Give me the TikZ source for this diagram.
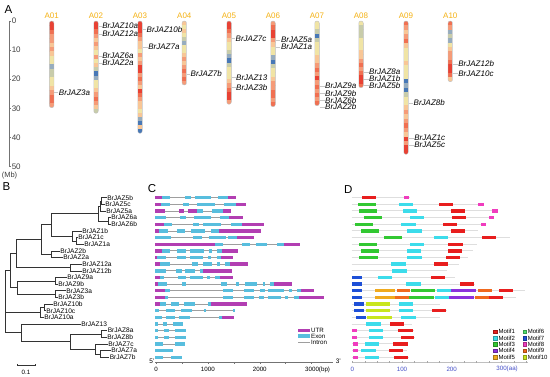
\documentclass[tikz,border=0pt]{standalone}
\usepackage{fontspec}
\setmainfont{Liberation Sans}
\definecolor{cR}{RGB}{232,66,52}
\definecolor{cO}{RGB}{240,112,82}
\definecolor{cS}{RGB}{245,155,120}
\definecolor{cP}{RGB}{248,198,150}
\definecolor{cY}{RGB}{240,228,165}
\definecolor{cG}{RGB}{200,204,170}
\definecolor{cL}{RGB}{150,172,190}
\definecolor{cB}{RGB}{72,120,182}
\definecolor{gold}{RGB}{245,178,20}
\definecolor{cu}{RGB}{178,62,178}
\definecolor{ce}{RGB}{88,190,222}
\definecolor{m1}{RGB}{232,30,30}
\definecolor{m2}{RGB}{60,220,235}
\definecolor{m3}{RGB}{50,200,50}
\definecolor{m4}{RGB}{140,50,220}
\definecolor{m5}{RGB}{240,170,30}
\definecolor{m6}{RGB}{80,225,110}
\definecolor{m7}{RGB}{30,80,215}
\definecolor{m8}{RGB}{240,60,190}
\definecolor{m9}{RGB}{240,105,30}
\definecolor{m10}{RGB}{200,230,30}
\definecolor{axblue}{RGB}{70,80,200}
\newcommand\chrom[4]{%
  \begin{scope}
    \clip[rounded corners=2.2pt] ({#1-2.3},21) rectangle ({#1+2.3},#2);
    \foreach \c [count=\i] in {#4} {
      \fill[\c] ({#1-2.5},{21+(\i-1)*(#2-21)/#3}) rectangle ({#1+2.5},{21+\i*(#2-21)/#3+0.25});
    }
  \end{scope}
  \draw[chromline] ({#1-2.3},21) rectangle ({#1+2.3},#2);
}
\newcommand\generow[3]{%
  \draw[intron] (155,#1) -- (#2,#1);
  \foreach \t/\a/\b in {#3} {\fill[\t] (\a,{#1-1.7}) rectangle (\b,{#1+1.7});}
}
\newcommand\protrow[3]{%
  \draw[protline] (351.7,#1) -- (#2,#1);
  \foreach \t/\a/\b in {#3} {\fill[\t] (\a,{#1-1.7}) rectangle (\b,{#1+1.7});}
}
\begin{document}
\begin{tikzpicture}[x=1pt,y=-1pt,
  panel/.style={font=\fontsize{11.5}{12}\selectfont, inner sep=0pt},
  chromline/.style={draw=black!25, line width=0.4pt, rounded corners=2.2pt},
  chrlab/.style={font=\fontsize{8}{9}\selectfont, text=gold, inner sep=0pt},
  genelab/.style={font=\fontsize{8}{9}\selectfont\itshape, anchor=west, inner sep=0.5pt},
  leader/.style={draw=black!22, line width=0.25pt},
  axisline/.style={draw=black!55, line width=0.5pt},
  axlab/.style={font=\fontsize{8}{9}\selectfont, text=black!75, anchor=west, inner sep=0pt},
  branch/.style={draw=black!80, line width=0.6pt},
  treelab/.style={font=\fontsize{6.6}{7}\selectfont, anchor=west, inner sep=0.6pt},
  intron/.style={draw=black!38, line width=0.8pt},
  protline/.style={draw=black!13, line width=1pt},
  smalllab/.style={font=\fontsize{6.2}{7}\selectfont, inner sep=0pt},
  leglab/.style={font=\fontsize{6.2}{7}\selectfont, anchor=west, inner sep=0pt},
  motleg/.style={line width=0.2pt}]
\useasboundingbox (0,0) rectangle (550,377);
\fill[white] (0,0) rectangle (550,377);

% ---------- Panel A ----------
\node[panel] (pA) at (8.5,9.5) {A};
\draw[axisline] (9.3,21) -- (9.3,166.5);
\foreach \v in {0,10,20,30,40,50} {
  \draw[axisline] (9.3,{21+2.91*\v}) -- (11,{21+2.91*\v});
  \node[axlab] (ax\v) at (11.6,{21+2.91*\v}) {\v};
}
\node[font=\fontsize{7.5}{9}\selectfont, text=black!75, inner sep=0pt] (mb) at (9.5,175.5) {(Mb)};

\chrom{51.7}{107.7}{20}{cR,cR,cO,cS,cS,cP,cS,cP,cY,cY,cL,cG,cG,cY,cY,cP,cS,cO,cO,cS}
\chrom{96}{113.3}{22}{cR,cR,cO,cS,cP,cS,cP,cY,cS,cY,cP,cG,cB,cL,cY,cY,cP,cS,cO,cS,cP,cG}
\chrom{140}{133.3}{28}{cR,cR,cR,cO,cS,cP,cP,cY,cS,cP,cS,cR,cR,cS,cO,cS,cP,cR,cO,cS,cP,cP,cY,cP,cL,cB,cP,cB}
\chrom{184.3}{85}{16}{cP,cY,cP,cY,cG,cL,cY,cY,cP,cS,cP,cS,cO,cS,cO,cS}
\chrom{229}{104.3}{20}{cR,cR,cO,cS,cP,cY,cY,cG,cL,cB,cG,cY,cY,cY,cP,cS,cO,cR,cR,cS}
\chrom{273}{106.7}{20}{cS,cO,cR,cR,cS,cP,cY,cY,cL,cB,cG,cY,cY,cP,cS,cS,cO,cO,cS,cO}
\chrom{317}{105.7}{20}{cY,cY,cG,cB,cG,cY,cY,cY,cP,cP,cS,cO,cS,cR,cS,cO,cS,cO,cS,cO}
\chrom{361}{87.7}{16}{cY,cG,cG,cG,cY,cY,cY,cP,cP,cS,cO,cS,cO,cR,cR,cO}
\chrom{406}{154.3}{30}{cO,cS,cP,cS,cO,cP,cY,cY,cY,cP,cY,cY,cY,cB,cL,cB,cG,cY,cY,cP,cS,cP,cS,cO,cS,cP,cR,cS,cR,cR}
\chrom{450.3}{81.7}{14}{cO,cS,cL,cG,cL,cY,cP,cS,cS,cO,cR,cR,cO,cP}

\foreach \nm/\x in {A01/51.7,A02/96,A03/140,A04/184.3,A05/229,A06/273,A07/317,A08/361,A09/406,A10/450.3}
  \node[chrlab] (l\nm) at (\x,15.6) {\nm};

\foreach \nm/\cx/\x/\y/\t in {
  g3a/51.7/58.3/92.3/BrJAZ3a,
  g10a/96/101.7/25.7/BrJAZ10a, g12a/96/101.7/34/BrJAZ12a, g6a/96/101.7/56/BrJAZ6a, g2a/96/101.7/62.7/BrJAZ2a,
  g10b/140/146/29.3/BrJAZ10b, g7a/140/147.7/46.7/BrJAZ7a,
  g7b/184.3/190/74/BrJAZ7b,
  g7c/229/235/38.3/BrJAZ7c, g13/229/235.5/77.3/BrJAZ13, g3b/229/235.5/87.3/BrJAZ3b,
  g5a/273/280.3/40/BrJAZ5a, g1a/273/280.3/47/BrJAZ1a,
  g9a/317/324.5/85.8/BrJAZ9a, g9b/317/324.5/93.6/BrJAZ9b, g6b/317/324.5/100.2/BrJAZ6b, g2b/317/324.5/106.8/BrJAZ2b,
  g8a/361/368.5/71.8/BrJAZ8a, g1b/361/368.5/78.8/BrJAZ1b, g5b/361/368.5/85.6/BrJAZ5b,
  g8b/406/413/102.7/BrJAZ8b, g1c/406/413.7/137.7/BrJAZ1c, g5c/406/413.7/144.7/BrJAZ5c,
  g12b/450.3/457.7/64/BrJAZ12b, g10c/450.3/457.7/73.3/BrJAZ10c} {
  \node[genelab] (\nm) at (\x,\y) {\t};
  \draw[leader] ({\cx+2.5},\y) -- (\nm.west);
}

% ---------- Panel B ----------
\node[panel] (pB) at (6.5,187) {B};
\foreach \nm/\x/\y/\t in {
  L1/106.5/197.7/BrJAZ5b, L2/104.5/204.35/BrJAZ5c, L3/105.5/211.0/BrJAZ5a,
  L4/110.5/217.65/BrJAZ6a, L5/110.5/224.3/BrJAZ6b, L6/81.5/230.95/BrJAZ1b,
  L7/77.5/237.6/BrJAZ1c, L8/83.5/244.25/BrJAZ1a, L9/59.5/250.9/BrJAZ2b,
  L10/62.5/257.55/BrJAZ2a, L11/81.5/264.2/BrJAZ12a, L12/81.5/270.85/BrJAZ12b,
  L13/66.5/277.5/BrJAZ9a, L14/57.5/284.15/BrJAZ9b, L15/65.5/290.8/BrJAZ3a,
  L16/57.5/297.45/BrJAZ3b, L17/52.5/304.1/BrJAZ10b, L18/45.5/310.75/BrJAZ10c,
  L19/43.5/317.4/BrJAZ10a, L20/80.5/324.05/BrJAZ13, L21/107/330.7/BrJAZ8a,
  L22/106.5/337.35/BrJAZ8b, L23/107.5/344.0/BrJAZ7c, L24/110.5/350.65/BrJAZ7a,
  L25/109/357.3/BrJAZ7b} {
  \coordinate (\nm) at (\x,\y);
  \node[treelab] (t\nm) at (\nm) {\t};
}
\foreach \nm/\x/\y in {
  n55/101.5/201.03, n5/100/206.01, n6/108/220.98, n56/98.5/213.49,
  n1ca/76/240.93, n1/72/235.94, n561/51.7/224.71, n2/51.7/254.23,
  n5612/41/239.47, n12/70/267.53, nU/16.7/253.5, n9/55/280.83,
  n3/55/294.13, n93/17.3/287.48, nQ/10/270.49, n10bc/44/307.43,
  n10/40/312.41, n8/101.5/334.03, n7ab/100/353.98, n7/95/348.99,
  n87/70.7/341.51, nY/21.3/332.78, root/5/301.6}
  \coordinate (\nm) at (\x,\y);
\foreach \p/\c in {
  n55/L1, n55/L2, n5/n55, n5/L3, n6/L4, n6/L5, n56/n5, n56/n6,
  n1ca/L7, n1ca/L8, n1/L6, n1/n1ca, n561/n56, n561/n1, n2/L9, n2/L10,
  n5612/n561, n5612/n2, n12/L11, n12/L12, nU/n5612, nU/n12,
  n9/L13, n9/L14, n3/L15, n3/L16, n93/n9, n93/n3, nQ/nU, nQ/n93,
  n10bc/L17, n10bc/L18, n10/n10bc, n10/L19, n8/L21, n8/L22,
  n7ab/L24, n7ab/L25, n7/L23, n7/n7ab, n87/n8, n87/n7, nY/L20, nY/n87,
  root/nQ, root/n10, root/nY}
  \draw[branch] (\p) |- (\c);
\coordinate (sbl) at (17,365.5);
\coordinate (sbr) at (35,365.5);
\draw[branch, line width=0.5pt] ([yshift=1.6pt]sbl) -- (sbl) -- (sbr) -- ([yshift=1.6pt]sbr);
\node[smalllab] (sblab) at (26,372) {0.1};

% ---------- Panel C ----------
\node[panel] (pC) at (152,188.3) {C};
\generow{197.7}{236}{cu/155/161.7,ce/161.7/170,ce/185/190.7,ce/195/210.7,ce/217.7/227.7,cu/227.7/236}
\generow{204.35}{245.7}{cu/155/160.7,ce/160.7/170,ce/183.3/189,ce/196.7/215,ce/224/236,cu/236/245.7}
\generow{211}{231}{cu/155/165,cu/179.3/184,cu/188.3/197.3,ce/197.3/203.3,ce/211.7/222.7,cu/222.7/231}
\generow{217.65}{243.3}{ce/155/166,ce/180/186,ce/194.3/210.7,ce/220/229,cu/229/243.3}
\generow{224.3}{264}{cu/155/164,ce/164/171.7,ce/192.7/199.3,ce/203.3/220.7,ce/231/241.7,cu/241.7/264}
\generow{230.95}{260.7}{cu/155/159.3,ce/159.3/168.3,ce/176.7/185,ce/190.7/205,ce/210.7/219,cu/219/260.7}
\generow{237.6}{254}{ce/155/170.7,ce/192.7/201.7,ce/209.3/225.7,ce/227.7/237.3,cu/237.3/254}
\generow{244.25}{300}{cu/155/215,ce/215/222.7,ce/241.7/250,ce/256/267.3,ce/276.7/284,cu/284/300}
\generow{250.9}{238.3}{cu/155/161.7,ce/161.7/170,ce/177.3/185.7,ce/190/204,ce/209.3/211.7,ce/217.3/221.7,cu/221.7/238.3}
\generow{257.55}{233.3}{cu/155/157.3,ce/157.3/166,ce/177.3/185.7,ce/190/203.3,ce/208.3/210.7,ce/216.7/220.7,cu/220.7/233.3}
\generow{264.2}{248.3}{cu/155/160,ce/160/170,ce/191.7/198.3,ce/202.7/211.7,ce/216.7/220,ce/225/230,cu/230/248.3}
\generow{270.85}{231.7}{ce/155/166,ce/176/181.7,ce/185/195,ce/200/203.3,cu/203.3/231.7}
\generow{277.5}{232.7}{cu/155/160,ce/160/164,ce/178.3/186,ce/190/202.7,ce/207.3/210,ce/215/220,cu/220/232.7}
\generow{284.15}{291.7}{cu/155/158.3,ce/158.3/166.7,ce/182.3/186,ce/220.7/227.3,ce/236/239.3,ce/245/257.3,ce/262.7/265,ce/270/274,cu/274/291.7}
\generow{290.8}{314}{cu/155/165,ce/165/170,ce/222.7/233.3,ce/244/254,ce/260/265,ce/268.3/284,ce/289.3/291.7,ce/296.7/300.7,cu/300.7/314}
\generow{297.45}{324}{cu/155/165,ce/165/168.3,ce/222.7/233.3,ce/244/254.3,ce/259.3/264.3,ce/268.3/281,ce/285/287.7,ce/294/299,cu/299/324}
\generow{304.1}{246.7}{cu/155/160,ce/160/166,ce/171/179.3,ce/184/195,ce/208.3/211,cu/211/246.7}
\generow{310.75}{235}{ce/155/159.3,ce/166/175,ce/180.7/191.7,ce/204/206,ce/233.3/235}
\generow{317.4}{234}{ce/155/161.7,ce/166/175,ce/179.3/190,ce/219/221.7,cu/221.7/234}
\generow{324.05}{183.3}{ce/155/158.3,ce/163.3/167.3,ce/172.7/183.3}
\generow{330.7}{185.7}{ce/155/158.3,ce/164/169.3,ce/175/185.7}
\generow{337.35}{185.7}{ce/155/158.3,ce/164/169.3,ce/175/185.7}
\generow{344}{185}{ce/155/163.3,ce/175/185}
\generow{350.65}{172.7}{ce/155/172.7}
\generow{357.3}{181.7}{ce/155/163.3,ce/170.7/181.7}
% legend C
\fill[cu] (298.3,329) rectangle (310,332.4);
\node[leglab] (legU) at (311,330.7) {UTR};
\fill[ce] (298.3,334.3) rectangle (310,337.7);
\node[leglab] (legE) at (311,336) {Exon};
\draw[intron] (298.3,342) -- (310,342);
\node[leglab] (legI) at (311,342) {Intron};
% axis C
\draw[axisline] (155,362.7) -- (332.7,362.7);
\foreach \v in {0,500,...,3000} \draw[axisline] ({156+0.0519*\v},362.7) -- ({156+0.0519*\v},363.9);
\foreach \v in {0,1000,2000} \node[smalllab] (cax\v) at ({156+0.0519*\v},369.8) {\v};
\node[smalllab, anchor=west] (cax3000) at (305,369.8) {3000(bp)};
\node[smalllab, font=\fontsize{6.5}{7}\selectfont] (five) at (152,360.8) {5'};
\node[smalllab, font=\fontsize{6.5}{7}\selectfont] (three) at (338.3,360.8) {3'};

% ---------- Panel D ----------
\node[panel] (pD) at (348.3,189.3) {D};
\protrow{197.7}{410}{m1/361.7/375.7,m8/404/409.3}
\protrow{204.35}{484}{m3/357.7/375.7,m2/399.3/413.3,m1/439.3/453.3,m8/478.3/484}
\protrow{211}{497.7}{m3/359/376.7,m2/403.3/417.3,m1/450.7/465,m8/492.3/497.7}
\protrow{217.65}{494.3}{m3/364.3/382.3,m2/410/424.3,m1/451.7/465.7,m8/489.3/494.3}
\protrow{224.3}{485.7}{m3/355/373.3,m2/401/415.7,m1/443.3/457.3,m8/480.7/485.7}
\protrow{230.95}{478.3}{m3/360.7/379,m2/407.3/421.7,m1/450.7/465}
\protrow{237.6}{510}{m3/384/401.7,m2/434/447.7,m1/481.7/496}
\protrow{244.25}{476.7}{m3/359.3/377.3,m2/410/424,m1/448.3/462.7}
\protrow{250.9}{473.3}{m3/361/379,m2/406.7/421,m1/448.3/462.3}
\protrow{257.55}{468.3}{m3/359.3/377.7,m2/407.3/421.7,m1/445.7/460}
\protrow{264.2}{459.3}{m2/391/405.7,m1/434.3/448.3}
\protrow{270.85}{446.7}{m2/392.3/406.7}
\protrow{277.5}{455}{m7/351.7/361.7,m2/377.7/391.7,m1/430.7/445}
\protrow{284.15}{475}{m7/351.7/361.7,m2/406/420.7,m1/460/474}
\protrow{290.8}{525}{m7/351.7/361.7,m5/375/395,m9/396.7/410,m3/410.7/435,m2/436.7/450.7,m4/450.7/475.7,m9/478.3/492.3,m1/499.3/513.3}
\protrow{297.45}{515.7}{m7/351.7/361.7,m5/375/395,m9/395/409,m3/409.3/434,m2/435/449,m4/449.3/474,m9/475/489,m1/489.3/503.3}
\protrow{304.1}{440}{m7/354/364,m10/366/390,m2/399/413.3}
\protrow{310.75}{447}{m7/354/364,m10/366/390,m2/399/413.3,m1/431.7/445.7}
\protrow{317.4}{440}{m7/355.7/365.7,m10/367.3/391.7,m2/401/415.7}
\protrow{324.05}{411.7}{m2/366/380.7,m1/390/404.3}
\protrow{330.7}{414}{m8/351.7/356.7,m2/369/383.3,m1/398.3/412.7}
\protrow{337.35}{415}{m8/351.7/356.7,m2/369/383.3,m1/400.7/414}
\protrow{344}{408.3}{m8/352.7/358.3,m2/365/379.3,m1/393.3/407.7}
\protrow{350.65}{406.7}{m8/352.7/358.3,m2/361/375.7,m1/389/403.3}
\protrow{357.3}{409.3}{m8/352.7/358.3,m2/365/379.3,m1/394.3/408.3}
% legend D
\foreach \c/\x/\y/\t in {
  m1/493.3/331.7/Motif1, m2/493.3/337.9/Motif2, m3/493.3/344.3/Motif3, m4/493.3/350.7/Motif4, m5/493.3/357.1/Motif5,
  m6/522.7/331.7/Motif6, m7/522.7/337.9/Motif7, m8/522.7/344.3/Motif8, m9/522.7/350.7/Motif9, m10/522.7/357.1/Motif10} {
  \filldraw[fill=\c, draw=\c!70!black, motleg] (\x,{\y-1.8}) rectangle ({\x+3.8},{\y+1.8});
  \node[leglab, font=\fontsize{6}{7}\selectfont] (leg\t) at ({\x+5},\y) {\t};
}
% axis D
\draw[draw=black!25, line width=0.5pt] (352.3,362.7) -- (528,362.7);
\foreach \k in {0,...,14} \draw[draw=black!35, line width=0.4pt] ({352.3+12.425*\k},362.7) -- ({352.3+12.425*\k},361.3);
\foreach \v in {0,100,200} \node[smalllab, text=axblue] (dax\v) at ({352.3+0.497*\v},369.3) {\v};
\node[smalllab, text=axblue, anchor=west] (dax300) at (496.2,369.3) {300(aa)};
\end{tikzpicture}
\end{document}
